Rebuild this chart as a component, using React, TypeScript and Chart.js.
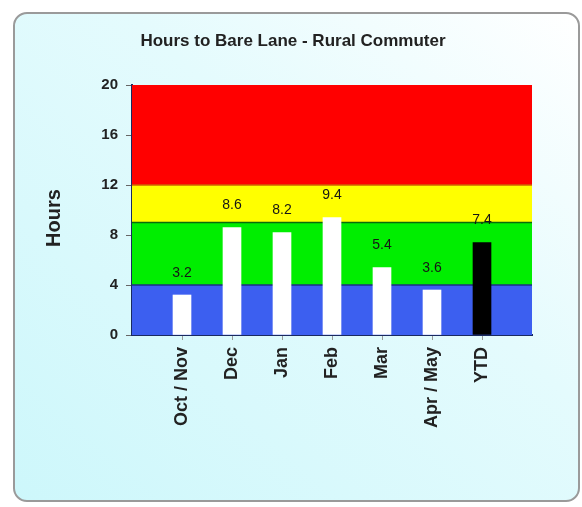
import React, { useEffect, useRef } from "react";
import { Chart, registerables } from "chart.js";

Chart.register(...registerables);

const chartTitle = "Hours to Bare Lane - Rural Commuter";
const yAxisTitle = "Hours";
const categories = ["Oct / Nov", "Dec", "Jan", "Feb", "Mar", "Apr / May", "YTD"];
const hours = [3.2, 8.6, 8.2, 9.4, 5.4, 3.6, 7.4];
const barColors = ["#ffffff", "#ffffff", "#ffffff", "#ffffff", "#ffffff", "#ffffff", "#000000"];
const bandEdges = [0, 4, 9, 12, 20];
const bandColors = ["#3c5ff0", "#00ee00", "#ffff00", "#ff0000"];
const bandLineColors = ["#1a2f80", "#0a6a0a", "#d06000"];
const yMin = 0;
const yMax = 20;
const yStep = 4;

const FONT = "'Liberation Sans', Arial, sans-serif";

const bandsPlugin = {
  id: "bands",
  beforeDatasetsDraw(chart: any) {
    const { ctx, chartArea, scales } = chart;
    const y = scales.y;
    const { left, right } = chartArea;
    ctx.save();
    for (let i = 0; i < bandColors.length; i++) {
      const top = y.getPixelForValue(bandEdges[i + 1]);
      const bottom = y.getPixelForValue(bandEdges[i]);
      ctx.fillStyle = bandColors[i];
      ctx.fillRect(left, top, right - left, bottom - top);
    }
    ctx.lineWidth = 1.5;
    for (let i = 1; i < bandEdges.length - 1; i++) {
      const py = y.getPixelForValue(bandEdges[i]);
      ctx.strokeStyle = bandLineColors[i - 1];
      ctx.beginPath();
      ctx.moveTo(left, py);
      ctx.lineTo(right, py);
      ctx.stroke();
    }
    ctx.restore();
  },
};

const textPlugin = {
  id: "texts",
  afterDatasetsDraw(chart: any) {
    const { ctx } = chart;
    const meta = chart.getDatasetMeta(0);
    ctx.save();
    ctx.fillStyle = "#151515";
    ctx.font = `14px ${FONT}`;
    ctx.textAlign = "center";
    ctx.textBaseline = "middle";
    meta.data.forEach((bar: any, i: number) => {
      ctx.fillText(hours[i].toFixed(1), bar.x, bar.y - 22);
    });
    ctx.restore();
  },
  afterDraw(chart: any) {
    const { ctx } = chart;
    ctx.save();
    ctx.fillStyle = "#222";
    ctx.font = `bold 17px ${FONT}`;
    ctx.textAlign = "center";
    ctx.textBaseline = "middle";
    ctx.fillText(chartTitle, 293, 41);
    ctx.translate(54, 218);
    ctx.rotate(-Math.PI / 2);
    ctx.font = `bold 20px ${FONT}`;
    ctx.fillText(yAxisTitle, 0, 0);
    ctx.restore();
  },
};

export default function App() {
  const canvasRef = useRef<HTMLCanvasElement | null>(null);

  useEffect(() => {
    if (!canvasRef.current) return;
    const chart = new Chart(canvasRef.current, {
      type: "bar",
      data: {
        datasets: [
          {
            label: yAxisTitle,
            data: categories.map((c, i) => ({ x: i + 1, y: hours[i] })),
            backgroundColor: barColors,
            borderWidth: 0,
            barThickness: 18,
          },
        ],
      },
      options: {
        animation: false,
        responsive: true,
        maintainAspectRatio: false,
        layout: { padding: { left: 0, right: 50, top: 85, bottom: 0 } },
        plugins: {
          legend: { display: false },
          title: { display: false },
          tooltip: { enabled: false },
        },
        scales: {
          x: {
            type: "linear",
            min: 0,
            max: categories.length + 1,
            offset: false,
            z: 1,
            afterFit: (s: any) => {
              s.height = 172;
            },
            ticks: {
              stepSize: 1,
              autoSkip: false,
              minRotation: 90,
              maxRotation: 90,
              padding: 7,
              color: "#222",
              font: { family: FONT, size: 18, weight: "bold" },
              callback: (v: any) => categories[Number(v) - 1] ?? "",
            },
            grid: {
              offset: false,
              drawOnChartArea: false,
              tickLength: 5,
              color: (ctx: any) =>
                ctx.tick && ctx.tick.value >= 1 && ctx.tick.value <= categories.length
                  ? "#999"
                  : "rgba(0,0,0,0)",
            },
            border: { display: true, color: "#1a2a60", width: 2 },
          },
          y: {
            min: yMin,
            max: yMax,
            z: 1,
            afterFit: (s: any) => {
              s.width = 132;
            },
            ticks: {
              stepSize: yStep,
              padding: 8,
              color: "#222",
              font: { family: FONT, size: 15, weight: "bold" },
            },
            grid: {
              drawOnChartArea: false,
              tickLength: 6,
              color: "#666",
            },
            border: { display: true, color: "#1a2a60", width: 2 },
          },
        },
      },
      plugins: [bandsPlugin, textPlugin],
    });
    return () => chart.destroy();
  }, []);

  return (
    <div style={{ position: "absolute", left: 0, top: 0, width: 582, height: 507, background: "#ffffff" }}>
      <div
        style={{
          position: "absolute",
          left: 13,
          top: 12,
          width: 563,
          height: 486,
          border: "2px solid #9a9a9a",
          borderRadius: 14,
          background: "linear-gradient(to bottom left, #ffffff 0%, #e4fbfd 40%, #cdf7fb 100%)",
        }}
      />
      <canvas ref={canvasRef} style={{ position: "absolute", left: 0, top: 0, width: 582, height: 507 }} />
    </div>
  );
}
